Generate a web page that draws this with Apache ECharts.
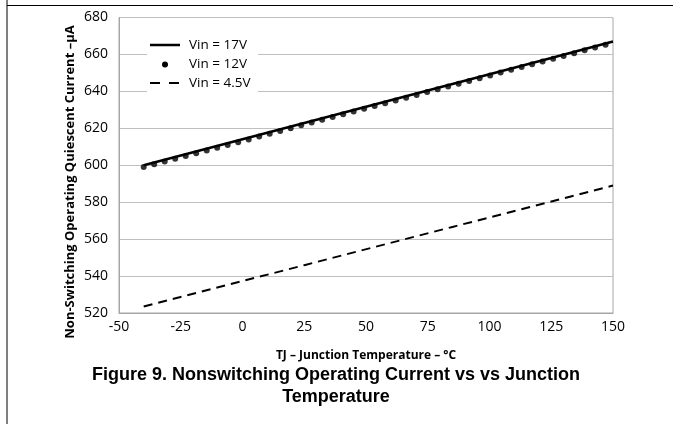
<!DOCTYPE html>
<html>
<head>
<meta charset="utf-8">
<script src="https://cdn.jsdelivr.net/npm/echarts@6/dist/echarts.min.js"></script>
<style>
html,body{margin:0;padding:0;background:#fff;}
#c{width:673px;height:424px;}
</style>
</head>
<body>
<div id="c"></div>
<script>
// Data
var seriesNames = ['Vin = 17V', 'Vin = 12V', 'Vin = 4.5V'];
var xTicks = [-50, -25, 0, 25, 50, 75, 100, 125, 150];
var yTicks = [520, 540, 560, 580, 600, 620, 640, 660, 680];

var temp17 = [-40, 0, 25, 50, 85, 125, 150];
var vin17 = [600.0, 614.1, 622.9, 631.7, 644.0, 658.1, 667.0];

var temp12 = [-40, -35.75, -31.5, -27.25, -23, -18.75, -14.5, -10.25, -6, -1.75, 2.5, 6.75, 11, 15.25, 19.5, 23.75, 28, 32.25, 36.5, 40.75, 45, 49.25, 53.5, 57.75, 62, 66.25, 70.5, 74.75, 79, 83.25, 87.5, 91.75, 96, 100.25, 104.5, 108.75, 113, 117.25, 121.5, 125.75, 130, 134.25, 138.5, 142.75, 147];
var vin12 = [599.0, 600.5, 602.0, 603.5, 605.0, 606.5, 608.0, 609.5, 611.0, 612.5, 614.0, 615.5, 617.1, 618.6, 620.1, 621.6, 623.1, 624.6, 626.1, 627.6, 629.1, 630.6, 632.1, 633.6, 635.1, 636.6, 638.1, 639.6, 641.1, 642.6, 644.1, 645.6, 647.1, 648.6, 650.2, 651.7, 653.2, 654.7, 656.2, 657.7, 659.2, 660.7, 662.2, 663.7, 665.2];

var temp45 = [-40, 25, 85, 150];
var vin45 = [523.5, 545.9, 566.6, 589.0];

var titleLines = ['Figure 9. Nonswitching Operating Current vs vs Junction', 'Temperature'];
var xTitle = 'TJ \u2013 Junction Temperature \u2013 \u00B0C';
var yTitle = 'Non-Switching Operating Quiescent Current \u2013\u00B5A';

function pairs(xs, ys){ return xs.map(function(x,i){ return [x, ys[i]]; }); }

var chart = echarts.init(document.getElementById('c'), null, {renderer:'canvas'});
var tickFont = 'Open Sans';
var option = {
  animation: false,
  backgroundColor: '#ffffff',
  grid: { left: 119, right: 60, top: 17.5, bottom: 111, show: true, borderColor: '#a6a6a6', borderWidth: 1, backgroundColor: 'transparent' },
  xAxis: {
    type: 'value', min: xTicks[0], max: xTicks[xTicks.length-1], interval: 25,
    axisLine: { show: true, onZero: false, lineStyle: { color: '#a6a6a6', width: 1 } },
    axisTick: { show: false },
    splitLine: { show: false },
    axisLabel: { color: '#000', fontFamily: tickFont, fontSize: 14, margin: 7 },
    name: xTitle, nameLocation: 'middle', nameGap: 37,
    nameTextStyle: { color: '#000', fontFamily: tickFont, fontWeight: 'bold', fontSize: 12 }
  },
  yAxis: {
    type: 'value', min: yTicks[0], max: yTicks[yTicks.length-1], interval: 20,
    axisLine: { show: true, onZero: false, lineStyle: { color: '#a6a6a6', width: 1 } },
    axisTick: { show: false },
    splitLine: { show: true, lineStyle: { color: '#bfbfbf', width: 1 } },
    axisLabel: { color: '#000', fontFamily: tickFont, fontSize: 14, margin: 11 }
  },
  series: [
    { name: seriesNames[1], type: 'scatter', data: pairs(temp12, vin12), symbol: 'circle', symbolSize: 6,
      itemStyle: { color: '#000' }, z: 2 },
    { name: seriesNames[0], type: 'line', data: pairs(temp17, vin17), showSymbol: false, symbol: 'none',
      lineStyle: { color: '#000', width: 2.5 }, z: 3 },
    { name: seriesNames[2], type: 'line', data: pairs(temp45, vin45), showSymbol: false, symbol: 'none',
      lineStyle: { color: '#000', width: 2, type: [9, 6] }, z: 3 }
  ],
  graphic: [
    { type: 'line', shape: { x1: 7, y1: 0, x2: 7, y2: 424 }, style: { stroke: '#000', lineWidth: 1 }, z: 100 },
    { type: 'line', shape: { x1: 7, y1: 5.5, x2: 673, y2: 5.5 }, style: { stroke: '#000', lineWidth: 1 }, z: 100 },
    // legend box
    { type: 'rect', shape: { x: 147, y: 36, width: 111, height: 57 }, style: { fill: '#fff' }, z: 50 },
    { type: 'line', shape: { x1: 150, y1: 45, x2: 180, y2: 45 }, style: { stroke: '#000', lineWidth: 2.5 }, z: 51 },
    { type: 'circle', shape: { cx: 165, cy: 64.5, r: 3 }, style: { fill: '#000' }, z: 51 },
    { type: 'line', shape: { x1: 150, y1: 83, x2: 180, y2: 83 }, style: { stroke: '#000', lineWidth: 2, lineDash: [10, 9] }, z: 51 },
    { type: 'text', x: 189, y: 45, style: { text: seriesNames[0], font: '13.5px "Open Sans"', fill: '#000', textVerticalAlign: 'middle' }, z: 51 },
    { type: 'text', x: 189, y: 64, style: { text: seriesNames[1], font: '13.5px "Open Sans"', fill: '#000', textVerticalAlign: 'middle' }, z: 51 },
    { type: 'text', x: 189, y: 83, style: { text: seriesNames[2], font: '13.5px "Open Sans"', fill: '#000', textVerticalAlign: 'middle' }, z: 51 },
    // y axis title
    { type: 'text', x: 70, y: 182, rotation: Math.PI/2, style: { text: yTitle, font: 'bold 13px "Open Sans"', fill: '#000', textAlign: 'center', textVerticalAlign: 'middle' }, z: 51 },
    // figure caption
    { type: 'text', x: 336, y: 375, style: { text: titleLines[0], font: 'bold 18px "Liberation Sans"', fill: '#000', textAlign: 'center', textVerticalAlign: 'middle' }, z: 51 },
    { type: 'text', x: 336, y: 397, style: { text: titleLines[1], font: 'bold 18px "Liberation Sans"', fill: '#000', textAlign: 'center', textVerticalAlign: 'middle' }, z: 51 }
  ]
};
chart.setOption(option);
</script>
</body>
</html>
